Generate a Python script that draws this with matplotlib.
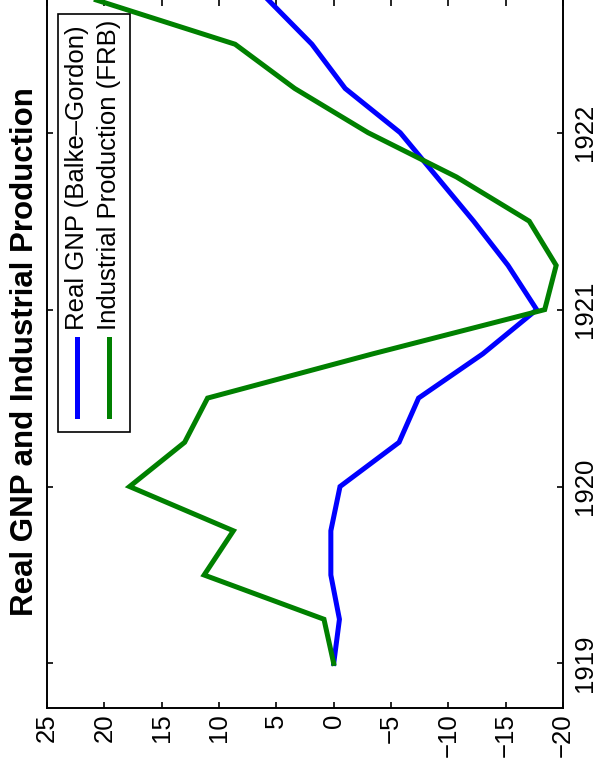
import matplotlib
matplotlib.use("Agg")
import matplotlib.pyplot as plt
from matplotlib.lines import Line2D
from matplotlib.patches import Rectangle

# quarterly growth, percent (chart is drawn turned on its side)
quarters = [1919.0, 1919.25, 1919.5, 1919.75, 1920.0, 1920.25, 1920.5, 1920.75,
            1921.0, 1921.25, 1921.5, 1921.75, 1922.0, 1922.25, 1922.5, 1922.75]
gnp = [0.0, -0.5, 0.25, 0.25, -0.55, -5.7, -7.4, -13.0,
       -17.7, -15.2, -12.2, -9.0, -5.8, -1.0, 1.9, 5.7]
ip = [0.0, 0.85, 11.3, 8.75, 17.8, 13.0, 11.0, -3.4,
      -18.4, -19.4, -17.05, -10.7, -3.0, 3.4, 8.6, 20.7]
labels = ["Real GNP (Balke\u2013Gordon)", "Industrial Production (FRB)"]
colors = ["#0000ff", "#008000"]
value_ticks = [-20, -15, -10, -5, 0, 5, 10, 15, 20, 25]
year_ticks = [1919, 1920, 1921, 1922]

plt.rcParams["font.family"] = ["Liberation Sans", "DejaVu Sans"]

fig = plt.figure(figsize=(5.99, 7.69), dpi=100)
ax = fig.add_axes([0.0785, 0.0797, 0.8615, 0.9203])

ax.plot(gnp, quarters, color=colors[0], lw=3.6, solid_joinstyle="miter")
ax.plot(ip, quarters, color=colors[1], lw=3.6, solid_joinstyle="miter")

ax.set_xlim(25, -20)
ax.set_ylim(1918.75, 1922.75)
ax.set_xticks(value_ticks)
ax.set_yticks(year_ticks)
ax.set_xticklabels([str(v).replace("-", "\u2212") for v in value_ticks])
ax.yaxis.tick_right()
ax.tick_params(axis="both", direction="in", length=4.5, width=1.2, labelsize=18.5,
               top=True, bottom=True, left=True, right=True)
ax.tick_params(axis="x", labelrotation=90, pad=4)
ax.tick_params(axis="y", labelrotation=90, pad=7)
for t in ax.get_yticklabels():
    t.set_va("center")
for s in ax.spines.values():
    s.set_linewidth(1.4)
ax.spines["top"].set_visible(False)

# legend drawn by hand so its text can stand on end
ax.add_patch(Rectangle((0.0207, 0.3896), 0.1403, 0.5904, transform=ax.transAxes,
                       fill=True, facecolor="white", edgecolor="black", lw=1.2, zorder=5))
for xc, lab, c in zip([0.0581, 0.1207], labels, colors):
    ax.add_line(Line2D([xc, xc], [0.4122, 0.521], transform=ax.transAxes,
                       color=c, lw=3.6, zorder=6))
    ax.text(xc, 0.5337, lab, transform=ax.transAxes, rotation=90,
            ha="center", va="bottom", fontsize=18.5, zorder=6)

fig.text(0.042, 0.543, "Real GNP and Industrial Production", rotation=90,
         ha="center", va="center", fontsize=22.5, fontweight="bold")

fig.savefig("out.png", dpi=100)
